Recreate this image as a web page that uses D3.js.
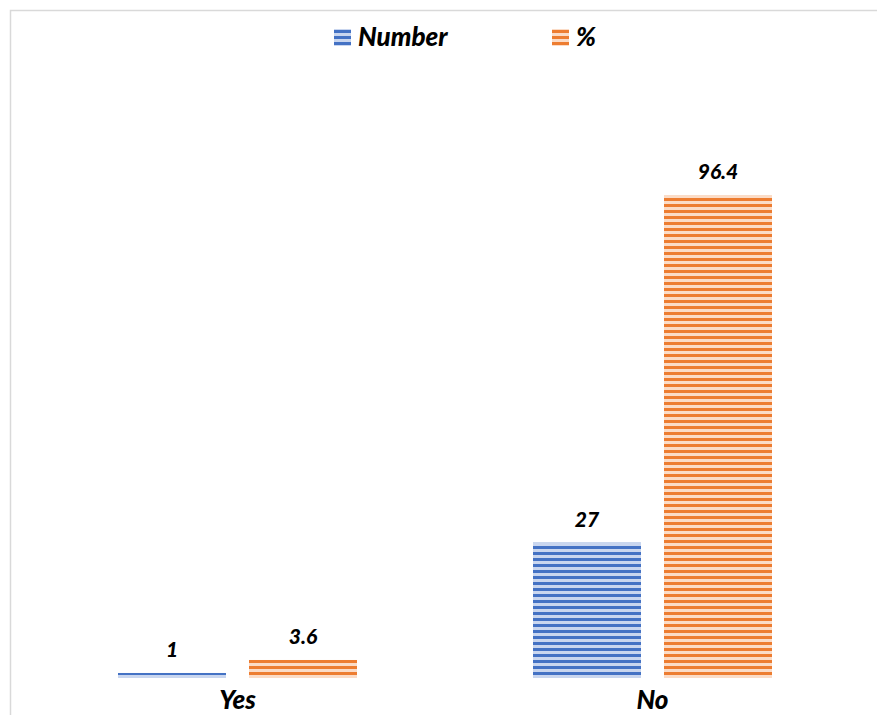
<!DOCTYPE html>
<html>
<head>
<meta charset="utf-8">
<script src="https://cdn.jsdelivr.net/npm/d3@7"></script>
<style>
  html, body { margin: 0; padding: 0; background: #fff; }
  svg { display: block; }
  text { font-family: Lato, "Open Sans", "Liberation Sans", sans-serif; font-weight: 900; font-style: italic; }
</style>
</head>
<body>
<svg id="chart" width="877" height="715"></svg>
<script>
// Answers and their counts / percentages
const categories = ["Yes", "No"];
const seriesNames = ["Number", "%"];
const numberValues = [1, 27];
const percentValues = [3.6, 96.4];

const colors = { "Number": ["#4472c4", "#c9d6ef"], "%": ["#ed7d31", "#fbdcc7"] };

const svg = d3.select("#chart");
const width = 877, height = 715;

// chart frame
svg.append("path")
  .attr("d", `M10.5,${height} V10.5 H${width}`)
  .attr("fill", "none").attr("stroke", "#d9d9d9").attr("stroke-width", 1.5);

// horizontal striped fills
const defs = svg.append("defs");
seriesNames.forEach((s, i) => {
  const p = defs.append("pattern")
    .attr("id", "stripe" + i)
    .attr("patternUnits", "userSpaceOnUse")
    .attr("width", 8).attr("height", 6);
  p.append("rect").attr("width", 8).attr("height", 6).attr("fill", colors[s][1]);
  p.append("rect").attr("y", 0).attr("width", 8).attr("height", 3).attr("fill", colors[s][0]);
});

const baseline = 678;
const y = d3.scaleLinear().domain([0, 96.4]).range([baseline, 195]);
const x0 = d3.scaleBand().domain(categories).range([30, 860]).paddingInner(0).paddingOuter(0);
const x1 = d3.scaleBand().domain(seriesNames).range([88, 327]).paddingInner(0.1756).paddingOuter(0);

const rows = categories.map((c, i) => ({
  cat: c,
  vals: [{ s: "Number", v: numberValues[i] }, { s: "%", v: percentValues[i] }]
}));

const g = svg.append("g");
const groups = g.selectAll("g.cat").data(rows).join("g")
  .attr("class", "cat")
  .attr("transform", d => `translate(${x0(d.cat)},0)`);

groups.selectAll("rect").data(d => d.vals).join("rect")
  .attr("x", d => x1(d.s))
  .attr("width", x1.bandwidth())
  .attr("y", d => y(d.v))
  .attr("height", d => baseline - y(d.v))
  .attr("fill", d => "url(#stripe" + seriesNames.indexOf(d.s) + ")");

// value labels
groups.selectAll("text.val").data(d => d.vals).join("text")
  .attr("class", "val")
  .attr("x", d => x1(d.s) + x1.bandwidth() / 2)
  .attr("y", d => y(d.v) - 16)
  .attr("text-anchor", "middle")
  .attr("font-size", 21)
  .attr("fill", "#000")
  .text(d => d.v);

// category axis labels
const xAxis = d3.axisBottom(x0).tickSize(0).tickPadding(0);
const ax = svg.append("g").attr("transform", `translate(0,${baseline})`).call(xAxis);
ax.select(".domain").remove();
ax.selectAll("text")
  .attr("dy", 0).attr("y", 31)
  .attr("font-size", 26).attr("fill", "#000")
  .style("font-family", "Lato, 'Open Sans', sans-serif");

// legend
const legendItems = [{ s: "Number", x: 334 }, { s: "%", x: 552 }];
const lg = svg.append("g");
legendItems.forEach((it, i) => {
  lg.append("rect").attr("x", it.x).attr("y", 29).attr("width", 17).attr("height", 17)
    .attr("fill", "url(#stripe" + i + ")");
  lg.append("text").attr("x", it.x + 24).attr("y", 46)
    .attr("font-size", 26).attr("fill", "#000").text(it.s);
});
</script>
</body>
</html>
